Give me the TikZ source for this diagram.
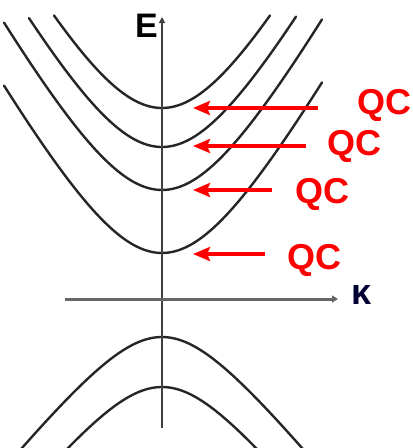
\documentclass[tikz,border=0pt]{standalone}
\usepackage{fontspec}
\setmainfont{Liberation Sans}
\usetikzlibrary{arrows.meta}
\tikzset{
  band/.style={line width=2.4pt, draw=black!85, line cap=round},
  qcarrow/.style={line width=4pt, draw=red, -{Stealth[length=17pt,width=14pt,inset=3pt]}},
  qclabel/.style={text=red, font=\bfseries\fontsize{36}{36}\selectfont, inner sep=0pt, anchor=base west},
  axislabel/.style={inner sep=0pt, anchor=base west},
}
\begin{document}
\begin{tikzpicture}[x=1pt,y=-1pt]
\useasboundingbox (0,0) rectangle (413,448);
\clip (0,0) rectangle (413,448);
% conduction bands (hyperbolic)
\draw[band] plot[domain=-108:108,samples=80] ({162+\x},{108-(100*sqrt(1.58*1.58+(0.018*\x)*(0.018*\x))-158)});
\draw[band] plot[domain=-133:134,samples=80] ({162+\x},{147-(100*sqrt(1.58*1.58+(0.018*\x)*(0.018*\x))-158)});
\draw[band] plot[domain=-158:160,samples=80] ({162+\x},{190-(100*sqrt(1.58*1.58+(0.018*\x)*(0.018*\x))-158)});
\draw[band] plot[domain=-158:160,samples=80] ({162+\x},{253-(100*sqrt(1.58*1.58+(0.018*\x)*(0.018*\x))-158)});
% valence bands
\draw[band] plot[domain=-145:145,samples=80] ({162+\x},{337+(100*sqrt(0.824*0.824+(0.0125*\x)*(0.0125*\x))-82.4)});
\draw[band] plot[domain=-100:100,samples=80] ({162+\x},{387+(100*sqrt(0.824*0.824+(0.0125*\x)*(0.0125*\x))-82.4)});
% axes
\coordinate (ebot) at (162,428);
\coordinate (etop) at (162,17);
\coordinate (kleft) at (65,299);
\coordinate (kright) at (338,299);
\draw[line width=1.8pt, draw=black!75, -{Triangle[length=6pt,width=6pt]}] (ebot) -- (etop);
\draw[line width=3pt, draw=black!60, -{Triangle[length=6pt,width=7pt]}] (kleft) -- (kright);
\node[axislabel, font=\bfseries\fontsize{34}{34}\selectfont] (E) at (135,37) {E};
\node[axislabel, font=\bfseries\fontsize{36}{36}\selectfont, text=black!80!blue] (kappa) at (351,304) {κ};
% QC arrows
\coordinate (t1) at (318,108); \coordinate (h1) at (193,108);
\coordinate (t2) at (306,146); \coordinate (h2) at (193,146);
\coordinate (t3) at (272,190); \coordinate (h3) at (193,190);
\coordinate (t4) at (265,254); \coordinate (h4) at (193,254);
\draw[qcarrow] (t1) -- (h1);
\draw[qcarrow] (t2) -- (h2);
\draw[qcarrow] (t3) -- (h3);
\draw[qcarrow] (t4) -- (h4);
\node[qclabel] (qc1) at (357,114) {QC};
\node[qclabel] (qc2) at (327,155) {QC};
\node[qclabel] (qc3) at (295,203) {QC};
\node[qclabel] (qc4) at (287,269) {QC};
\end{tikzpicture}
\end{document}
